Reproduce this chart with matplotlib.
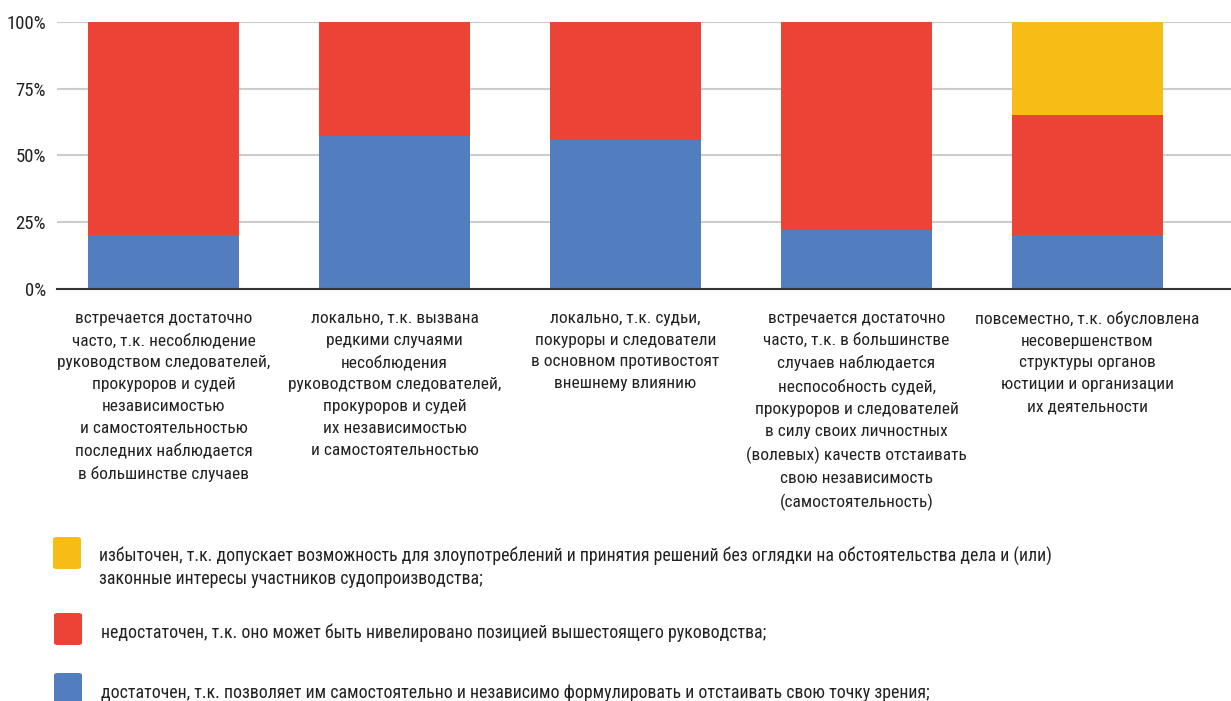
import matplotlib
matplotlib.use("Agg")
import matplotlib.pyplot as plt
from matplotlib.patches import FancyBboxPatch
from matplotlib.ticker import PercentFormatter
import numpy as np

plt.rcParams['font.family'] = ['Roboto Condensed', 'DejaVu Sans']

categories = [
    "встречается достаточно\nчасто, т.к. несоблюдение\nруководством следователей,\nпрокуроров и судей\nнезависимостью\nи самостоятельностью\nпоследних наблюдается\nв большинстве случаев",
    "локально, т.к. вызвана\nредкими случаями\nнесоблюдения\nруководством следователей,\nпрокуроров и судей\nих независимостью\nи самостоятельностью",
    "локально, т.к. судьи,\nпокуроры и следователи\nв основном противостоят\nвнешнему влиянию",
    "встречается достаточно\nчасто, т.к. в большинстве\nслучаев наблюдается\nнеспособность судей,\nпрокуроров и следователей\nв силу своих личностных\n(волевых) качеств отстаивать\nсвою независимость\n(самостоятельность)",
    "повсеместно, т.к. обусловлена\nнесовершенством\nструктуры органов\nюстиции и организации\nих деятельности",
]
blue = [20.0, 57.2, 55.9, 22.1, 20.0]   # достаточен
red = [80.0, 42.8, 44.1, 77.9, 45.0]    # недостаточен
yellow = [0.0, 0.0, 0.0, 0.0, 35.0]     # избыточен

legend_labels = [
    "избыточен, т.к. допускает возможность для злоупотреблений и принятия решений без оглядки на обстоятельства дела и (или)\nзаконные интересы участников судопроизводства;",
    "недостаточен, т.к. оно может быть нивелировано позицией вышестоящего руководства;",
    "достаточен, т.к. позволяет им самостоятельно и независимо формулировать и отстаивать свою точку зрения;",
]
c_blue, c_red, c_yellow = '#527EC0', '#EB4335', '#F8BC17'

W, H = 1231, 701
fig = plt.figure(figsize=(W / 100, H / 100), dpi=100)
ax = fig.add_axes([57 / W, 1 - 288.7 / H, (W - 57) / W, (288.7 - 22) / H])

x = np.arange(len(categories))
b = np.array(blue)
r = np.array(red)
y = np.array(yellow)
bw = 0.654
ax.bar(x, b, width=bw, color=c_blue, zorder=3)
ax.bar(x, r, width=bw, bottom=b, color=c_red, zorder=3)
ax.bar(x, y, width=bw, bottom=b + r, color=c_yellow, zorder=3)

ax.set_xlim(-0.461, 4.621)
ax.set_ylim(0, 100)
ax.set_yticks([0, 25, 50, 75, 100])
ax.yaxis.set_major_formatter(PercentFormatter(decimals=0))
ax.grid(axis='y', color='#cccccc', linewidth=1.5, zorder=0)
for s in ['top', 'right', 'left']:
    ax.spines[s].set_visible(False)
ax.spines['bottom'].set_color('#333333')
ax.spines['bottom'].set_linewidth(1.5)
ax.spines['bottom'].set_zorder(4)
ax.tick_params(axis='y', length=0, pad=8, labelsize=13.5, labelcolor='#222222')
ax.tick_params(axis='x', length=0, pad=0)
ax.set_xticks([])

for i, lab in enumerate(categories):
    ax.text(i, -0.082, lab, transform=ax.get_xaxis_transform(), ha='center', va='top',
            fontsize=12.5, color='#222222', linespacing=1.58)

# legend
sq = [(53, 537), (54, 613), (54, 673)]
cols = [c_yellow, c_red, c_blue]
ty = [567.5, 633, 693]
tx = [99, 101, 101]
for (sx, sy), c, lab, t, xx in zip(sq, cols, legend_labels, ty, tx):
    p = FancyBboxPatch((sx / W, 1 - (sy + 32) / H), 28 / W, 32 / H,
                       boxstyle="round,pad=0,rounding_size=0.003",
                       transform=fig.transFigure, facecolor=c, edgecolor='none')
    fig.patches.append(p)
    fig.text(xx / W, 1 - t / H, lab, ha='left', va='center',
             fontsize=12.9, color='#222222', linespacing=1.32)

fig.savefig('out.png', dpi=100)
